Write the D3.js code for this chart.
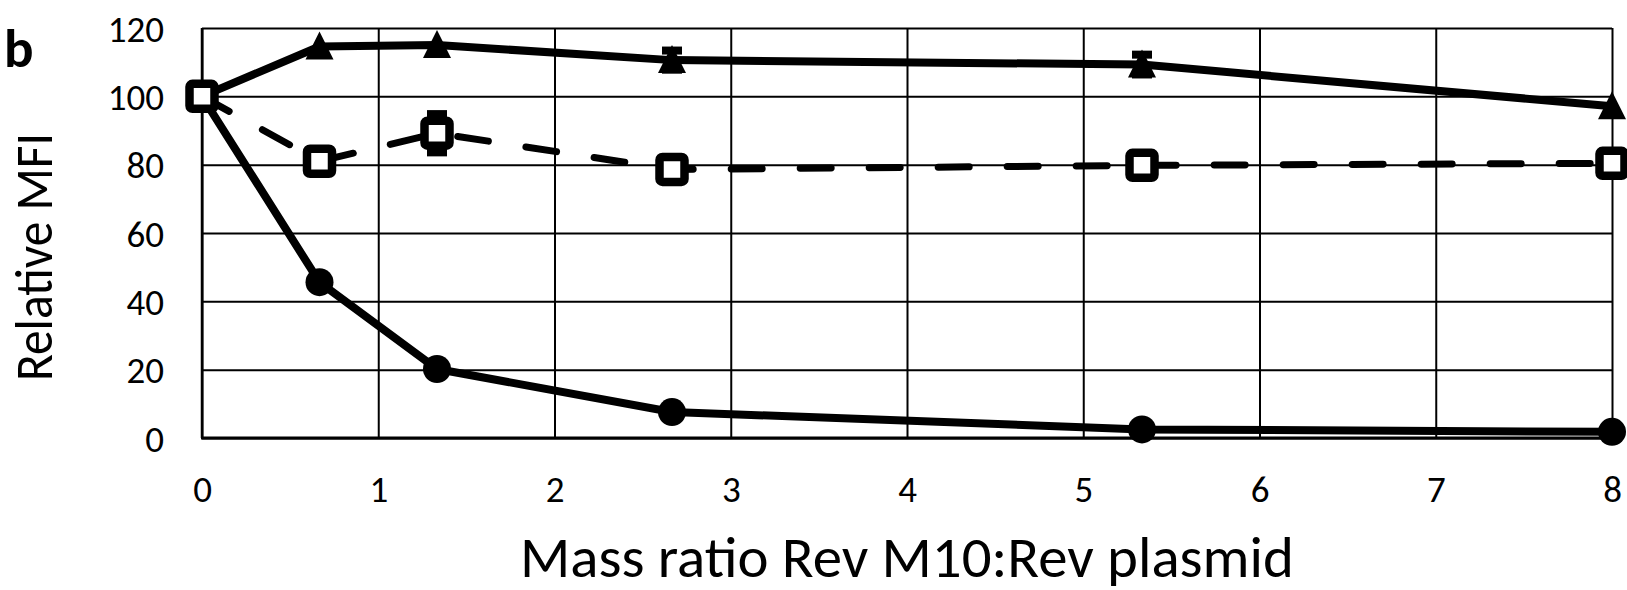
<!DOCTYPE html>
<html lang="en">
<head>
  <meta charset="UTF-8">
  <title>Relative MFI</title>
  <style>
    body { margin: 0; background: #fff; }
    svg text { font-family: Carlito, Calibri, Lato, sans-serif; fill: #000; }
    .grid line { stroke: #000; stroke-width: 2; }
    .grid .domain { display: none; }
  </style>
</head>
<body>
  <svg width="1627" height="590"></svg>
  <script src="https://cdn.jsdelivr.net/npm/d3@7"></script>
  <script>
    // mass ratio Rev M10 : Rev plasmid
    var ratios = [0, 2 / 3, 4 / 3, 8 / 3, 16 / 3, 8]
    var triangleVals = [100, 114.6, 115, 110.6, 109.3, 97.1]
    var triangleErr = [0, 0, 0, 2.8, 2.9, 0]
    var squareVals = [100, 81, 89.2, 78.6, 79.8, 80.4]
    var squareErr = [0, 0, 5.6, 0, 0, 0]
    var circleVals = [100, 45.6, 20.2, 7.6, 2.5, 1.8]
    var circleErr = [0, 0, 0, 0, 0, 0]
    var xTicks = [0, 1, 2, 3, 4, 5, 6, 7, 8]
    var yTicks = [0, 20, 40, 60, 80, 100, 120]

    var svg = d3.select('svg')
    var pLeft = 202, pRight = 1612, pTop = 28, pBottom = 438

    var x = d3.scaleLinear().domain([0, 8]).range([pLeft, pRight])
    var y = d3.scaleLinear().domain([0, 120]).range([pBottom, pTop])

    // grid + tick labels
    var yAxis = svg.append('g')
      .attr('class', 'grid')
      .attr('transform', 'translate(' + pLeft + ',0)')
      .call(d3.axisLeft(y).tickValues(yTicks).tickSize(-(pRight - pLeft)).tickPadding(38))
    yAxis.selectAll('text').style('font-size', '37px').attr('dy', '0.36em')

    var xAxis = svg.append('g')
      .attr('class', 'grid')
      .attr('transform', 'translate(0,' + pBottom + ')')
      .call(d3.axisBottom(x).tickValues(xTicks).tickSize(-(pBottom - pTop)).tickPadding(38))
    xAxis.selectAll('text').style('font-size', '37px')

    // frame
    svg.append('line')
      .attr('x1', pLeft).attr('x2', pLeft).attr('y1', pTop).attr('y2', pBottom)
      .attr('stroke', '#000').attr('stroke-width', 2.5)
    svg.append('line')
      .attr('x1', pLeft - 1).attr('x2', pRight + 1).attr('y1', pBottom).attr('y2', pBottom)
      .attr('stroke', '#000').attr('stroke-width', 3)

    function rows(vals, errs) {
      return ratios.map(function(r, i) { return { x: r, y: vals[i], e: errs[i] } })
    }
    var tri = rows(triangleVals, triangleErr)
    var sq = rows(squareVals, squareErr)
    var circ = rows(circleVals, circleErr)

    var line = d3.line()
      .x(function(d) { return x(d.x) })
      .y(function(d) { return y(d.y) })

    svg.append('path').datum(circ).attr('d', line)
      .attr('fill', 'none').attr('stroke', '#000').attr('stroke-width', 8)
      .attr('stroke-linejoin', 'round')
    svg.append('path').datum(sq).attr('d', line)
      .attr('fill', 'none').attr('stroke', '#000').attr('stroke-width', 7)
      .attr('stroke-dasharray', '31,38').attr('stroke-linecap', 'round')
    svg.append('path').datum(tri).attr('d', line)
      .attr('fill', 'none').attr('stroke', '#000').attr('stroke-width', 8)
      .attr('stroke-linejoin', 'round')

    // error bars
    function errorBars(data) {
      var g = svg.append('g').selectAll('g')
        .data(data.filter(function(d) { return d.e > 0 }))
        .enter().append('g')
      g.append('line')
        .attr('x1', function(d) { return x(d.x) }).attr('x2', function(d) { return x(d.x) })
        .attr('y1', function(d) { return y(d.y - d.e) }).attr('y2', function(d) { return y(d.y + d.e) })
        .attr('stroke', '#000').attr('stroke-width', 8)
      ;[1, -1].forEach(function(s) {
        g.append('line')
          .attr('x1', function(d) { return x(d.x) - 10 }).attr('x2', function(d) { return x(d.x) + 10 })
          .attr('y1', function(d) { return y(d.y + s * d.e) }).attr('y2', function(d) { return y(d.y + s * d.e) })
          .attr('stroke', '#000').attr('stroke-width', 8)
      })
    }
    errorBars(tri)
    errorBars(sq)
    errorBars(circ)

    // markers
    svg.append('g').selectAll('circle')
      .data(circ).enter().append('circle')
      .attr('cx', function(d) { return x(d.x) })
      .attr('cy', function(d) { return y(d.y) })
      .attr('r', 14)
      .attr('fill', '#000')

    svg.append('g').selectAll('path')
      .data(tri).enter().append('path')
      .attr('d', 'M0,-15L14,13L-14,13Z')
      .attr('transform', function(d) { return 'translate(' + x(d.x) + ',' + y(d.y) + ')' })
      .attr('fill', '#000')

    svg.append('g').selectAll('rect')
      .data(sq).enter().append('rect')
      .attr('x', function(d) { return x(d.x) - 12.5 })
      .attr('y', function(d) { return y(d.y) - 12.5 })
      .attr('width', 25).attr('height', 25)
      .attr('rx', 3)
      .attr('fill', '#fff').attr('stroke', '#000').attr('stroke-width', 8.5)

    // titles
    svg.append('text')
      .attr('x', (pLeft + pRight) / 2).attr('y', 577)
      .attr('text-anchor', 'middle')
      .attr('textLength', 774).attr('lengthAdjust', 'spacingAndGlyphs')
      .style('font-size', '57px')
      .text('Mass ratio Rev M10:Rev plasmid')

    svg.append('text')
      .attr('transform', 'translate(52,257) rotate(-90)')
      .attr('text-anchor', 'middle')
      .attr('textLength', 248).attr('lengthAdjust', 'spacingAndGlyphs')
      .style('font-size', '53px')
      .text('Relative MFI')

    svg.append('text')
      .attr('x', 4).attr('y', 67)
      .style('font-size', '55px').style('font-weight', 'bold')
      .text('b')
  </script>
</body>
</html>
